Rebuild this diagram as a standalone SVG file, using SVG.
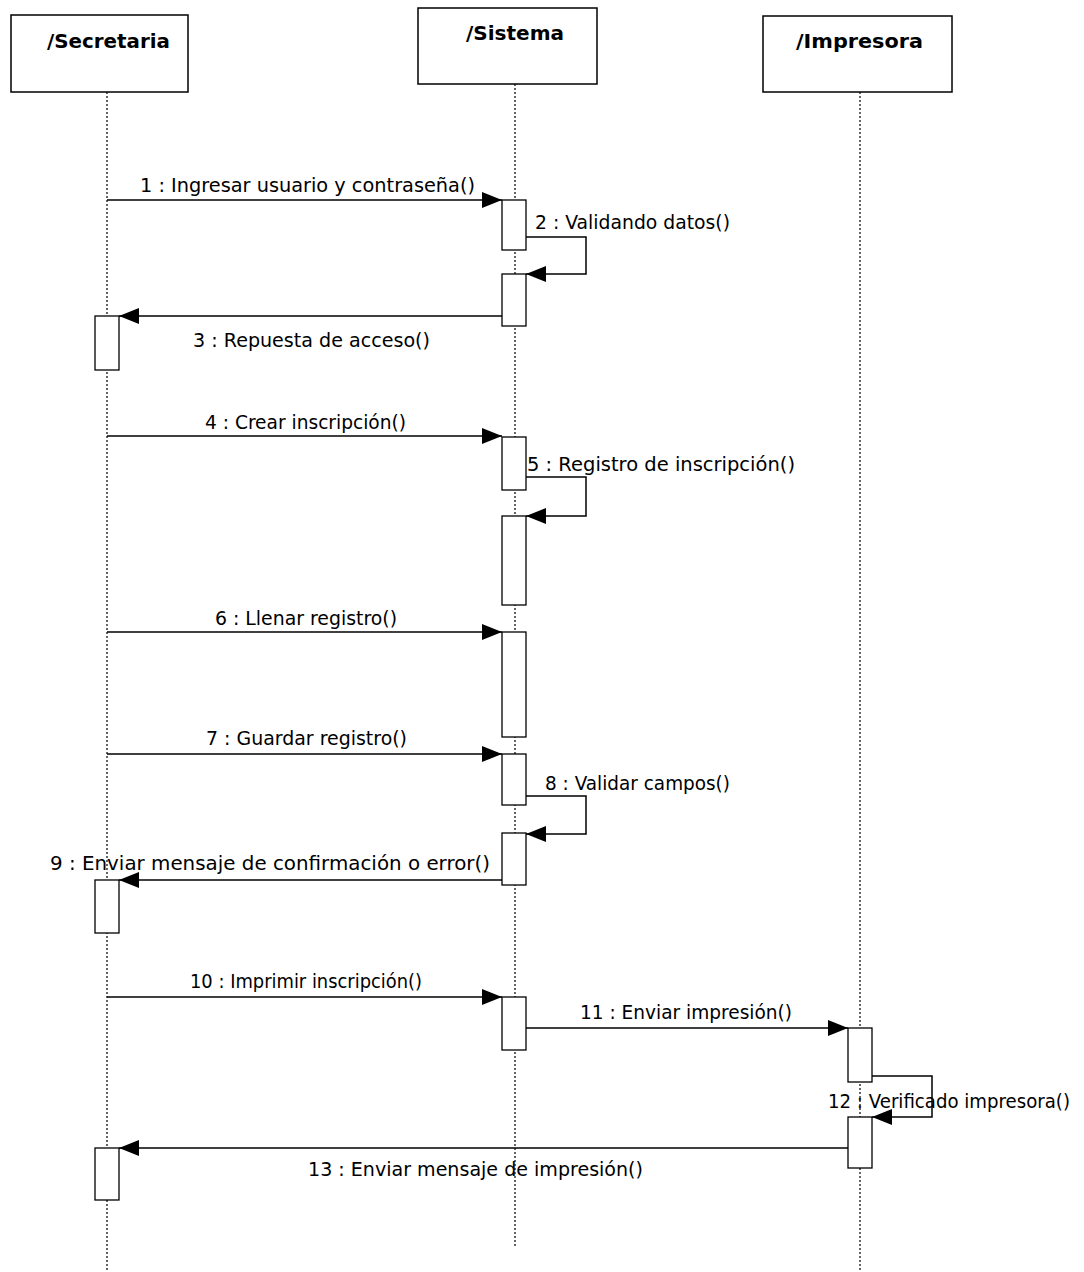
<svg xmlns="http://www.w3.org/2000/svg" width="1084" height="1272" viewBox="0 0 1084 1272">
<style>
.box{fill:#fff;stroke:#000;stroke-width:1.5}
.hdr{font-family:"DejaVu Sans",Verdana,sans-serif;font-weight:bold;font-size:20px;fill:#000}
.life{stroke:#000;stroke-width:1.2;stroke-dasharray:2,2;fill:none}
.act{fill:#fff;stroke:#000;stroke-width:1.3}
.msg{stroke:#000;stroke-width:1.5;fill:none;marker-end:url(#ah)}
.lbl{font-family:"DejaVu Sans",Verdana,sans-serif;font-size:19.5px;fill:#000}
</style>
<defs>
<marker id="ah" markerUnits="userSpaceOnUse" markerWidth="22" markerHeight="16" refX="20" refY="8" orient="auto">
<path d="M0,0 L20,8 L0,16 z" fill="#000"/>
</marker>
</defs>
<rect width="1084" height="1272" fill="#fff"/>
<g id="secretaria">
<rect class="box" x="11" y="15" width="177" height="77"/>
<text class="hdr" x="47" y="48" textLength="123" lengthAdjust="spacingAndGlyphs">/Secretaria</text>
<line class="life" x1="107" y1="92" x2="107" y2="1270"/>
<rect class="act" x="95" y="316" width="24" height="54"/>
<rect class="act" x="95" y="880" width="24" height="53"/>
<rect class="act" x="95" y="1148" width="24" height="52"/>
</g>
<g id="sistema">
<rect class="box" x="418" y="8" width="179" height="76"/>
<text class="hdr" x="466" y="40" textLength="98" lengthAdjust="spacingAndGlyphs">/Sistema</text>
<line class="life" x1="515" y1="84" x2="515" y2="1246"/>
<rect class="act" x="502" y="200" width="24" height="50"/>
<rect class="act" x="502" y="274" width="24" height="52"/>
<rect class="act" x="502" y="437" width="24" height="53"/>
<rect class="act" x="502" y="516" width="24" height="89"/>
<rect class="act" x="502" y="632" width="24" height="105"/>
<rect class="act" x="502" y="754" width="24" height="51"/>
<rect class="act" x="502" y="833" width="24" height="52"/>
<rect class="act" x="502" y="997" width="24" height="53"/>
</g>
<g id="impresora">
<rect class="box" x="763" y="16" width="189" height="76"/>
<text class="hdr" x="796" y="48" textLength="127" lengthAdjust="spacingAndGlyphs">/Impresora</text>
<line class="life" x1="860" y1="92" x2="860" y2="1270"/>
<rect class="act" x="848" y="1028" width="24" height="54"/>
<rect class="act" x="848" y="1117" width="24" height="51"/>
</g>
<g id="connectors">
<line class="msg" x1="107" y1="200" x2="502" y2="200"/>
<polyline class="msg" points="526,237 586,237 586,274 526,274"/>
<line class="msg" x1="502" y1="316" x2="119" y2="316"/>
<line class="msg" x1="107" y1="436" x2="502" y2="436"/>
<polyline class="msg" points="526,477 586,477 586,516 526,516"/>
<line class="msg" x1="107" y1="632" x2="502" y2="632"/>
<line class="msg" x1="107" y1="754" x2="502" y2="754"/>
<polyline class="msg" points="526,796 586,796 586,834 526,834"/>
<line class="msg" x1="502" y1="880" x2="119" y2="880"/>
<line class="msg" x1="107" y1="997" x2="502" y2="997"/>
<line class="msg" x1="526" y1="1028" x2="848" y2="1028"/>
<polyline class="msg" points="872,1076 932,1076 932,1117 872,1117"/>
<line class="msg" x1="848" y1="1148" x2="119" y2="1148"/>
<text class="lbl" x="140" y="192" textLength="335" lengthAdjust="spacingAndGlyphs">1 : Ingresar usuario y contraseña()</text>
<text class="lbl" x="535" y="229" textLength="195" lengthAdjust="spacingAndGlyphs">2 : Validando datos()</text>
<text class="lbl" x="193" y="347" textLength="237" lengthAdjust="spacingAndGlyphs">3 : Repuesta de acceso()</text>
<text class="lbl" x="205" y="429" textLength="201" lengthAdjust="spacingAndGlyphs">4 : Crear inscripción()</text>
<text class="lbl" x="527" y="471" textLength="268" lengthAdjust="spacingAndGlyphs">5 : Registro de inscripción()</text>
<text class="lbl" x="215" y="625" textLength="182" lengthAdjust="spacingAndGlyphs">6 : Llenar registro()</text>
<text class="lbl" x="206" y="745" textLength="201" lengthAdjust="spacingAndGlyphs">7 : Guardar registro()</text>
<text class="lbl" x="545" y="790" textLength="185" lengthAdjust="spacingAndGlyphs">8 : Validar campos()</text>
<text class="lbl" x="50" y="870" textLength="440" lengthAdjust="spacingAndGlyphs">9 : Enviar mensaje de confirmación o error()</text>
<text class="lbl" x="190" y="988" textLength="232" lengthAdjust="spacingAndGlyphs">10 : Imprimir inscripción()</text>
<text class="lbl" x="580" y="1019" textLength="212" lengthAdjust="spacingAndGlyphs">11 : Enviar impresión()</text>
<text class="lbl" x="828" y="1108" textLength="242" lengthAdjust="spacingAndGlyphs">12 : Verificado impresora()</text>
<text class="lbl" x="308" y="1176" textLength="335" lengthAdjust="spacingAndGlyphs">13 : Enviar mensaje de impresión()</text>
</g>
</svg>
